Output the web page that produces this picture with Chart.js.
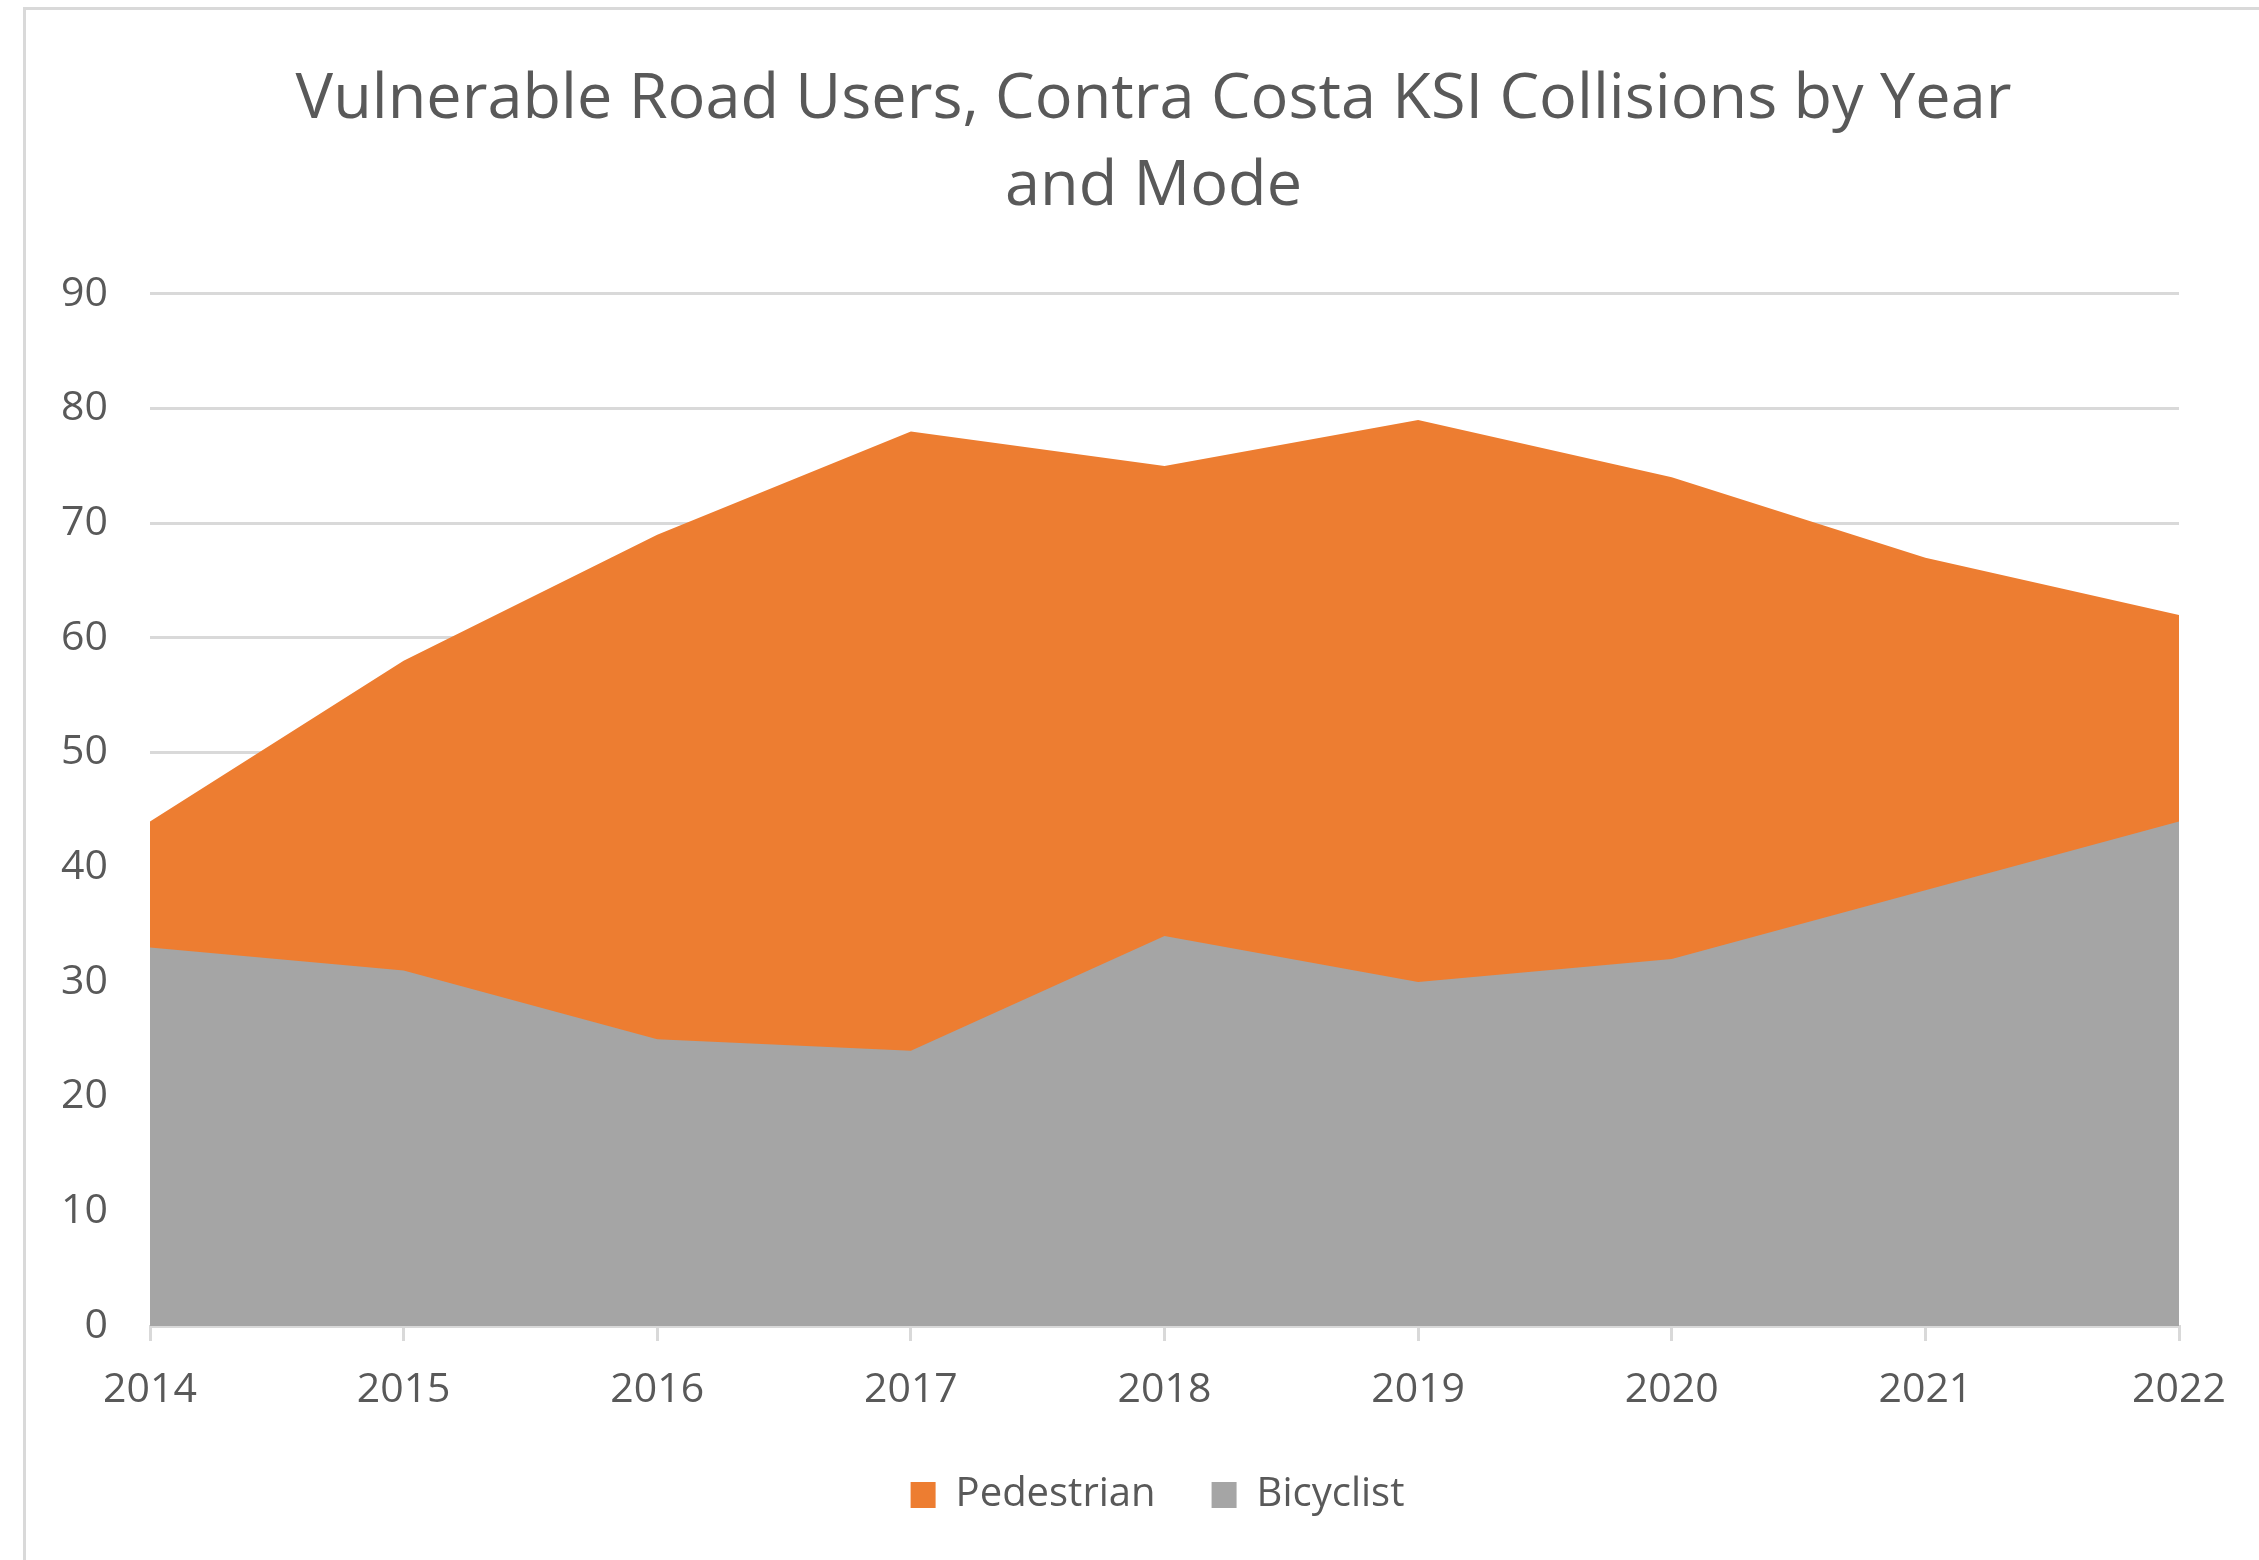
<!DOCTYPE html>
<html>
<head>
<meta charset="utf-8">
<script src="https://cdn.jsdelivr.net/npm/chart.js@4.4.1/dist/chart.umd.min.js"></script>
<style>
  html, body { margin: 0; padding: 0; background: #fff; overflow: hidden; }
  #frame {
    position: absolute; left: 23px; top: 7px; width: 2400px; height: 1700px;
    border: 3px solid #d9d9d9; box-sizing: border-box;
  }
  #chart { position: absolute; left: 0; top: 0; }
</style>
</head>
<body>
<div id="frame"></div>
<canvas id="chart" width="2259" height="1560"></canvas>
<script>
// Data (stacked area, Bicyclist at the bottom)
const years = ['2014', '2015', '2016', '2017', '2018', '2019', '2020', '2021', '2022'];
const bicyclist = [33, 31, 25, 24, 34, 30, 32, 38, 44];
const pedestrian = [11, 27, 44, 54, 41, 49, 42, 29, 18];

const textColor = '#595959';
const gridColor = '#d9d9d9';
const fontFamily = "'Open Sans', sans-serif";

// title and legend sit a little left of the plot centre in the original
const nudgeBoxes = {
    id: 'nudgeBoxes',
    afterLayout(chart) {
        chart.titleBlock.left -= 11;
        chart.titleBlock.right -= 11;
        chart.legend.left -= 7;
        chart.legend.right -= 7;
    }
};

const ctx = document.getElementById('chart').getContext('2d');
const chart = new Chart(ctx, {
    type: 'line',
    data: {
        labels: years,
        datasets: [
            {
                label: 'Bicyclist',
                data: bicyclist,
                backgroundColor: '#a5a5a5',
                borderColor: '#a5a5a5',
                borderWidth: 0,
                pointRadius: 0,
                fill: 'origin'
            },
            {
                label: 'Pedestrian',
                data: pedestrian,
                backgroundColor: '#ed7d31',
                borderColor: '#ed7d31',
                borderWidth: 0,
                pointRadius: 0,
                fill: 'origin'
            }
        ]
    },
    plugins: [nudgeBoxes],
    options: {
        responsive: false,
        animation: false,
        layout: { padding: { left: 0, right: 80, top: 45, bottom: 35 } },
        plugins: {
            title: {
                display: true,
                fullSize: false,
                text: ['Vulnerable Road Users, Contra Costa KSI Collisions by Year', 'and Mode'],
                color: textColor,
                font: { family: fontFamily, size: 63, weight: 'normal', lineHeight: 1.38 },
                padding: { top: 12, bottom: 63 }
            },
            legend: {
                position: 'bottom',
                fullSize: false,
                reverse: true,
                labels: {
                    color: textColor,
                    font: { family: fontFamily, size: 40 },
                    boxWidth: 25,
                    boxHeight: 26,
                    padding: 56
                }
            },
            tooltip: { enabled: false }
        },
        scales: {
            x: {
                offset: false,
                grid: {
                    drawOnChartArea: false,
                    drawTicks: true,
                    tickLength: 15,
                    color: gridColor,
                    lineWidth: 3
                },
                border: { display: true, color: gridColor, width: 3 },
                ticks: {
                    color: textColor,
                    font: { family: fontFamily, size: 41, lineHeight: 1.2 },
                    padding: 25,
                    maxRotation: 0
                },
                afterFit: (scale) => { scale.height = 93; }
            },
            y: {
                stacked: true,
                min: 0,
                max: 90,
                grid: { color: gridColor, lineWidth: 3, drawTicks: false },
                border: { display: false },
                ticks: {
                    stepSize: 10,
                    color: textColor,
                    font: { family: fontFamily, size: 41 },
                    padding: 42
                },
                afterFit: (scale) => { scale.width = 150; }
            }
        }
    }
});
</script>
</body>
</html>
